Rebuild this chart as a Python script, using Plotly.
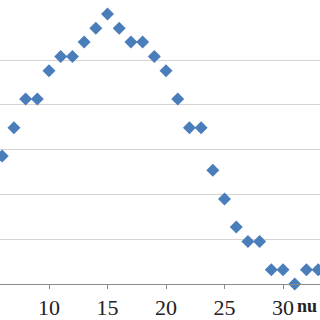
import plotly.graph_objects as go

x_vals = [6, 7, 8, 9, 10, 11, 12, 13, 14, 15, 16, 17, 18, 19, 20,
          21, 22, 23, 24, 25, 26, 27, 28, 29, 30, 31, 32, 33]
y_pct = [2.86, 3.49, 4.13, 4.13, 4.76, 5.08, 5.08, 5.40, 5.71, 6.03, 5.71, 5.40, 5.40, 5.08, 4.76,
         4.13, 3.49, 3.49, 2.54, 1.90, 1.27, 0.95, 0.95, 0.32, 0.32, 0.00, 0.32, 0.32]
x_ticks = [10, 15, 20, 25, 30]
y_grid = [1, 2, 3, 4, 5]
x_title = "nu"

fig = go.Figure()
fig.add_trace(go.Scatter(
    x=x_vals, y=y_pct, mode="markers", cliponaxis=False,
    marker=dict(symbol="diamond", size=10, color="#4a7ebb", line=dict(width=0)),
))

fig.update_layout(
    width=320, height=320,
    margin=dict(l=0, r=0, t=0, b=31, pad=0),
    paper_bgcolor="white", plot_bgcolor="white",
    showlegend=False,
    font=dict(family="Liberation Serif", size=22, color="#222"),
    xaxis=dict(range=[5.81, 33.16], tickvals=x_ticks, showgrid=False, zeroline=False,
               showline=True, linecolor="#8c8c8c", linewidth=1,
               ticks="outside", ticklen=4, tickcolor="#8c8c8c",
               tickfont=dict(family="Liberation Serif", size=22, color="#222")),
    yaxis=dict(range=[0, 6.34], tickvals=y_grid, showgrid=True, gridcolor="#d4d4d4", gridwidth=1,
               zeroline=False, showticklabels=False, showline=False),
    annotations=[dict(text="<b>" + x_title + "</b>", xref="paper", yref="paper",
                      x=1, y=0, xanchor="right", yanchor="top", yshift=-10, xshift=-1,
                      showarrow=False,
                      font=dict(family="Liberation Serif", size=18, color="#222"))],
)

fig.write_html("out.html")
